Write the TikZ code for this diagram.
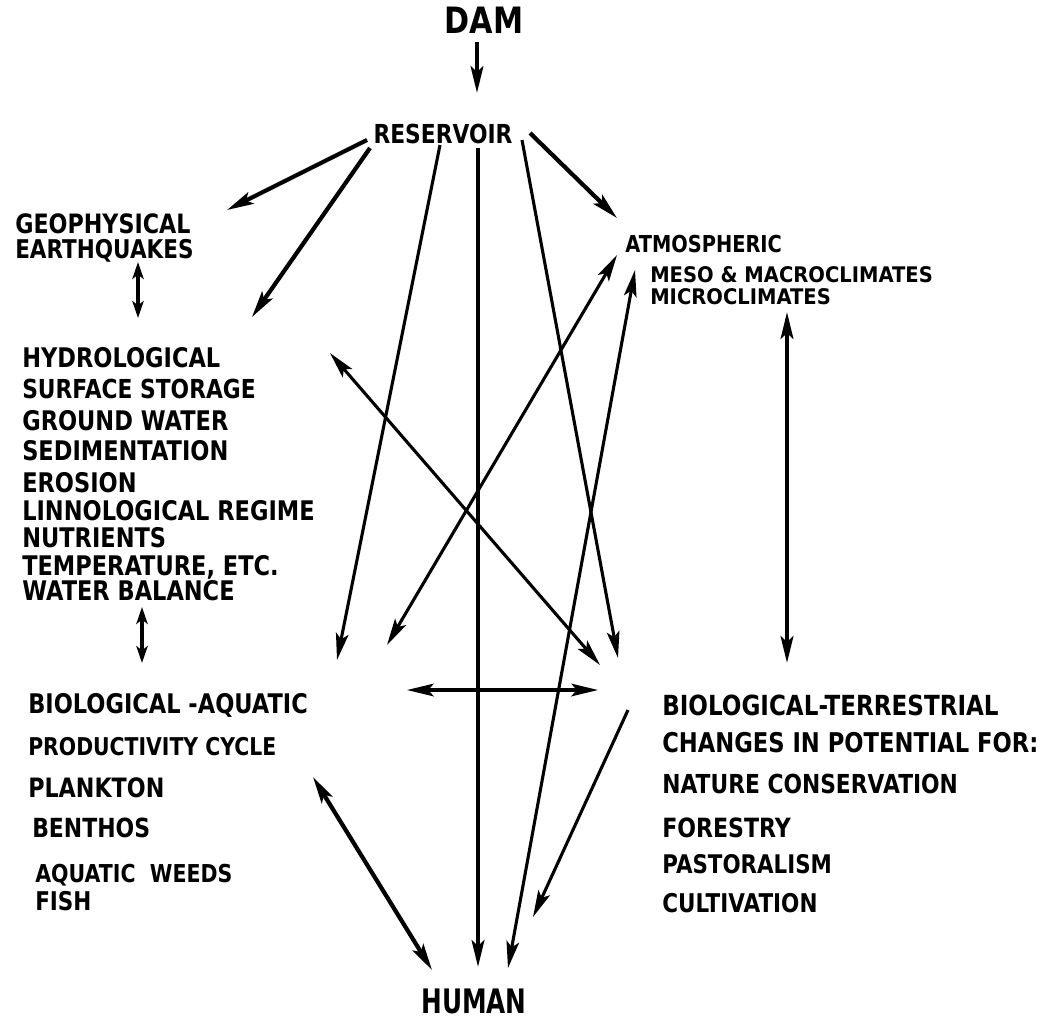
\documentclass[tikz,border=0pt]{standalone}
\usepackage{graphicx}
\usepackage{fontspec}
\setmainfont{DejaVu Sans}
\usetikzlibrary{arrows.meta}
\newcommand\tall[1]{\scalebox{1}[1.2]{#1}}
\newcommand\tallish[1]{\scalebox{1}[1.1]{#1}}
\tikzset{
  lbl/.style={anchor=base west, inner sep=0pt, font=\bfseries\fontsize{#1}{#1}\selectfont},
  tip/.tip={Stealth[length=19pt,width=9pt,inset=4pt]},
  smalltip/.tip={Stealth[length=12pt,width=8pt,inset=3pt]},
  thickline/.style={line width=3pt},
  thinline/.style={line width=2.2pt},
  one/.style={-tip},
  two/.style={tip-tip},
  twoshort/.style={smalltip-smalltip},
}
\begin{document}
\begin{tikzpicture}[x=0.025cm,y=-0.025cm]
\useasboundingbox (0,0) rectangle (1051,1021);
% ---- text ----
\node[lbl=21.5, anchor=base] (dam) at (484,33) {\tall{DAM}};
\node[lbl=15.5, anchor=base] (res) at (443,143) {\tall{RESERVOIR}};
\node[lbl=15.8] (geo) at (15,233) {\tall{GEOPHYSICAL}};
\node[lbl=15.3] (geo2) at (15,258) {\tall{EARTHQUAKES}};
\node[lbl=13.8] (atm) at (625,252) {\tall{ATMOSPHERIC}};
\node[lbl=13.9] (atm2) at (650,282) {\tallish{MESO \& MACROCLIMATES}};
\node[lbl=13.9] (atm3) at (650,304) {\tallish{MICROCLIMATES}};
\node[lbl=16] (hyd) at (22,367) {\tall{HYDROLOGICAL}};
\node[lbl=15.5] (hyd2) at (22,398) {\tall{SURFACE STORAGE}};
\node[lbl=16] (hyd3) at (22,430) {\tall{GROUND WATER}};
\node[lbl=16] (hyd4) at (22,460) {\tall{SEDIMENTATION}};
\node[lbl=16] (hyd5) at (22,492) {\tall{EROSION}};
\node[lbl=16] (hyd6) at (22,520) {\tall{LINNOLOGICAL REGIME}};
\node[lbl=16] (hyd7) at (22,547) {\tall{NUTRIENTS}};
\node[lbl=16] (hyd8) at (22,575) {\tall{TEMPERATURE, ETC.}};
\node[lbl=16] (hyd9) at (22,600) {\tall{WATER BALANCE}};
\node[lbl=16] (baq) at (28,713) {\tall{BIOLOGICAL -AQUATIC}};
\node[lbl=14.5] (baq2) at (28,755) {\tall{PRODUCTIVITY CYCLE}};
\node[lbl=15.8] (baq3) at (28,797) {\tall{PLANKTON}};
\node[lbl=15.6] (baq4) at (32,837) {\tall{BENTHOS}};
\node[lbl=14.6] (baq5) at (35,882) {\tall{AQUATIC\ \ WEEDS}};
\node[lbl=15.3] (baq6) at (35,910) {\tall{FISH}};
\node[lbl=16.4] (bte) at (662,715) {\tall{BIOLOGICAL-TERRESTRIAL}};
\node[lbl=16.1] (bte2) at (662,752) {\tall{CHANGES IN POTENTIAL FOR:}};
\node[lbl=15.5] (bte3) at (662,793) {\tall{NATURE CONSERVATION}};
\node[lbl=15.7] (bte4) at (662,837) {\tall{FORESTRY}};
\node[lbl=15.2] (bte5) at (662,873) {\tall{PASTORALISM}};
\node[lbl=15.3] (bte6) at (662,912) {\tall{CULTIVATION}};
\node[lbl=20, anchor=base] (human) at (474,1013) {\scalebox{0.88}[1.2]{HUMAN}};
% ---- connector end points ----
\coordinate (damS) at (477,42);
\coordinate (resN) at (477,93);
\coordinate (resW1) at (367,140);
\coordinate (resW2) at (370,148);
\coordinate (resS1) at (440,145);
\coordinate (resS2) at (478,148);
\coordinate (resS3) at (522,140);
\coordinate (resE) at (530,133);
\coordinate (geoE) at (227,210);
\coordinate (geoS) at (138,262);
\coordinate (hydN) at (138,318);
\coordinate (hydNE) at (252,317);
\coordinate (hydE) at (330,353);
\coordinate (hydS) at (142,607);
\coordinate (baqN) at (142,663);
\coordinate (baqNE1) at (337,660);
\coordinate (baqNE2) at (387,645);
\coordinate (baqE) at (407,690);
\coordinate (baqSE) at (313,777);
\coordinate (atmN) at (617,218);
\coordinate (atmSW1) at (617,255);
\coordinate (atmSW2) at (635,270);
\coordinate (atmS) at (787,312);
\coordinate (bteN) at (787,663);
\coordinate (bteNW1) at (618,658);
\coordinate (bteNW2) at (600,665);
\coordinate (bteW) at (598,690);
\coordinate (bteSW) at (628,710);
\coordinate (humN1) at (432,970);
\coordinate (humN2) at (478,967);
\coordinate (humN3) at (508,968);
\coordinate (humN4) at (533,917);
% ---- connectors ----
\draw[thickline, one] (damS) -- (resN);
\draw[thickline, one] (resW1) -- (geoE);
\draw[thickline, one] (resW2) -- (hydNE);
\draw[thinline, one] (resS1) -- (baqNE1);
\draw[thickline, one] (resS2) -- (humN2);
\draw[thinline, one] (resS3) -- (bteNW1);
\draw[thickline, one] (resE) -- (atmN);
\draw[thickline, twoshort] (geoS) -- (hydN);
\draw[thickline, twoshort] (hydS) -- (baqN);
\draw[thinline, two] (hydE) -- (bteNW2);
\draw[thinline, two] (atmSW1) -- (baqNE2);
\draw[thinline, two] (atmSW2) -- (humN3);
\draw[thickline, two] (atmS) -- (bteN);
\draw[thinline, two] (baqE) -- (bteW);
\draw[thickline, two] (baqSE) -- (humN1);
\draw[thinline, one] (bteSW) -- (humN4);
\end{tikzpicture}
\end{document}
